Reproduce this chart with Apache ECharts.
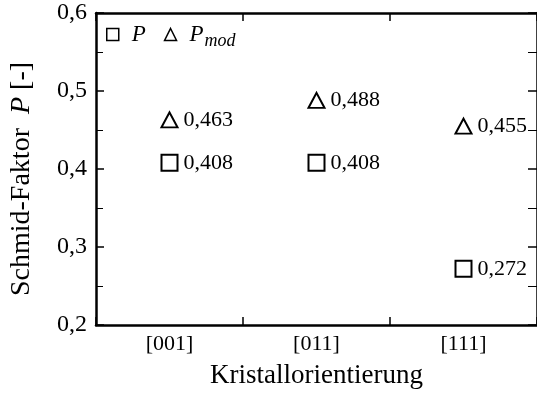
<!DOCTYPE html>
<html>
<head>
<meta charset="utf-8">
<script src="https://cdn.jsdelivr.net/npm/echarts@6/dist/echarts.min.js"></script>
<style>
  html, body { margin: 0; padding: 0; background: #fff; }
  #chart { width: 537px; height: 394px; }
</style>
</head>
<body>
<div id="chart"></div>
<script>
// Crystal orientations and Schmid factors
const orientations = ['[001]', '[011]', '[111]'];
const schmidP = [0.408, 0.408, 0.272];
const schmidPmod = [0.463, 0.488, 0.455];
const yTicks = [0.2, 0.3, 0.4, 0.5, 0.6];

const FONT = 'Liberation Serif';
const fmt = v => v.toFixed(3).replace('.', ',');

const chart = echarts.init(document.getElementById('chart'), null, { renderer: 'canvas' });

const axisLine = { show: true, lineStyle: { color: '#000', width: 2.5 } };

const labelStyle = {
  show: true,
  position: 'right',
  distance: 5,
  color: '#000',
  fontFamily: FONT,
  fontSize: 22,
  formatter: p => fmt(p.value[1])
};

chart.setOption({
  animation: false,
  grid: { left: 94, top: 13, right: -4, bottom: 66 },
  legend: {
    left: 101,
    top: 18,
    itemWidth: 12,
    itemHeight: 12,
    itemGap: 18,
    selectedMode: false,
    itemStyle: { color: '#fff', borderColor: '#000', borderWidth: 1.5 },
    data: [
      { name: 'P', icon: 'rect' },
      { name: 'P_mod', icon: 'triangle' }
    ],
    formatter: n => n === 'P' ? '{i|P}' : '{i|P}{s|mod}',
    textStyle: {
      color: '#000',
      fontFamily: FONT,
      rich: {
        i: { fontFamily: FONT, fontStyle: 'italic', fontSize: 23, lineHeight: 32, verticalAlign: 'middle', padding: [0, 0, 0, 8] },
        s: { fontFamily: FONT, fontStyle: 'italic', fontSize: 18, lineHeight: 32, verticalAlign: 'bottom', padding: [0, 0, 0, 1] }
      }
    }
  },
  xAxis: [
    {
      type: 'category',
      data: orientations,
      boundaryGap: true,
      axisLine: axisLine,
      axisTick: { show: true, inside: true, length: 8, lineStyle: { color: '#000', width: 1.5 } },
      axisLabel: { color: '#000', fontFamily: FONT, fontSize: 22, margin: 8 },
      name: 'Kristallorientierung',
      nameLocation: 'middle',
      nameGap: 37,
      nameTextStyle: { color: '#000', fontFamily: FONT, fontSize: 27 },
      splitLine: { show: false }
    },
    {
      type: 'category',
      data: orientations,
      position: 'top',
      boundaryGap: true,
      axisLine: axisLine,
      axisTick: { show: true, inside: true, length: 8, lineStyle: { color: '#000', width: 1.5 } },
      axisLabel: { show: false },
      splitLine: { show: false }
    }
  ],
  yAxis: [
    {
      type: 'value',
      min: yTicks[0],
      max: yTicks[yTicks.length - 1],
      interval: 0.1,
      axisLine: axisLine,
      axisTick: { show: true, inside: true, length: 8, lineStyle: { color: '#000', width: 1.5 } },
      minorTick: { show: true, splitNumber: 2, length: 7, lineStyle: { color: '#000', width: 1 } },
      axisLabel: { color: '#000', fontFamily: FONT, fontSize: 24, margin: 9, formatter: v => v.toFixed(1).replace('.', ',') },
      name: 'Schmid-Faktor  {i|P} [-]',
      nameLocation: 'middle',
      nameGap: 60,
      nameTextStyle: {
        color: '#000', fontFamily: FONT, fontSize: 28,
        padding: [0, 20, 0, 0],
        rich: { i: { fontFamily: FONT, fontStyle: 'italic', fontSize: 28 } }
      },
      splitLine: { show: false }
    },
    {
      type: 'value',
      position: 'right',
      min: yTicks[0],
      max: yTicks[yTicks.length - 1],
      interval: 0.1,
      axisLine: axisLine,
      axisTick: { show: true, inside: true, length: 9, lineStyle: { color: '#000', width: 1.5 } },
      minorTick: { show: true, splitNumber: 2, length: 9, lineStyle: { color: '#000', width: 1 } },
      axisLabel: { show: false },
      splitLine: { show: false }
    }
  ],
  series: [
    {
      name: 'P',
      type: 'scatter',
      symbol: 'rect',
      symbolSize: 16,
      itemStyle: { color: '#fff', borderColor: '#000', borderWidth: 2, opacity: 1 },
      label: labelStyle,
      emphasis: { disabled: true },
      data: orientations.map((o, i) => [o, schmidP[i]])
    },
    {
      name: 'P_mod',
      type: 'scatter',
      symbol: 'triangle',
      symbolSize: [16, 15],
      itemStyle: { color: '#fff', borderColor: '#000', borderWidth: 2, opacity: 1 },
      label: labelStyle,
      emphasis: { disabled: true },
      data: orientations.map((o, i) => [o, schmidPmod[i]])
    }
  ]
});
</script>
</body>
</html>
